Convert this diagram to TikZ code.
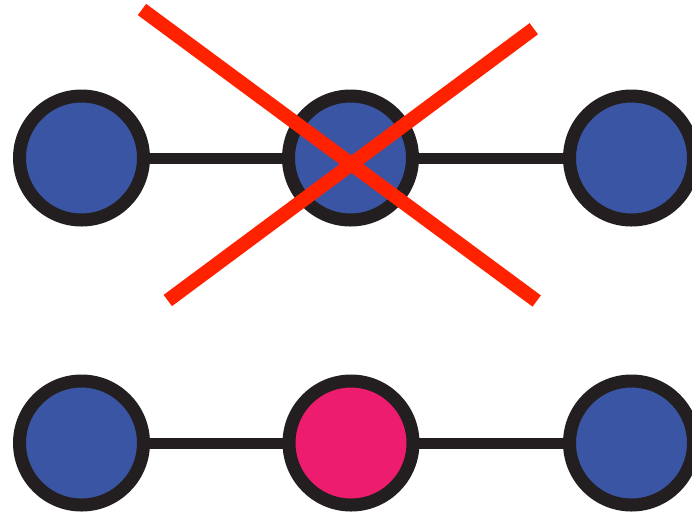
\documentclass[tikz,border=0pt]{standalone}
\definecolor{nodeblue}{HTML}{3A55A4}
\definecolor{nodepink}{HTML}{ED1C6E}
\definecolor{ringblack}{HTML}{231F20}
\definecolor{crossred}{HTML}{FF2200}
\begin{document}
\begin{tikzpicture}[x=1pt,y=-1pt,
  vertex/.style={circle,draw=ringblack,line width=13pt,inner sep=0pt,minimum size=124pt},
  bluev/.style={vertex,fill=nodeblue},
  pinkv/.style={vertex,fill=nodepink},
  link/.style={draw=ringblack,line width=11pt},
  crossline/.style={draw=crossred,line width=14pt}]
\useasboundingbox (0,0) rectangle (692,515);
\clip (0,0) rectangle (692,515);
% top row
\coordinate (t1) at (81.5,158);
\coordinate (t2) at (350.5,158);
\coordinate (t3) at (631.5,158);
\draw[link] (t1) -- (t2) -- (t3);
\node[bluev] (a1) at (t1) {};
\node[bluev] (a2) at (t2) {};
\node[bluev] (a3) at (t3) {};
% bottom row
\coordinate (b1) at (81.5,443);
\coordinate (b2) at (351,443);
\coordinate (b3) at (631.5,443);
\draw[link] (b1) -- (b2) -- (b3);
\node[bluev] (c1) at (b1) {};
\node[pinkv] (c2) at (b2) {};
\node[bluev] (c3) at (b3) {};
% cross
\coordinate (x1s) at (142,9.5);
\coordinate (x1e) at (536.7,301);
\coordinate (x2s) at (533.8,28.7);
\coordinate (x2e) at (167.8,300.5);
\draw[crossline] (x1s) -- (x1e);
\draw[crossline] (x2s) -- (x2e);
\end{tikzpicture}
\end{document}
